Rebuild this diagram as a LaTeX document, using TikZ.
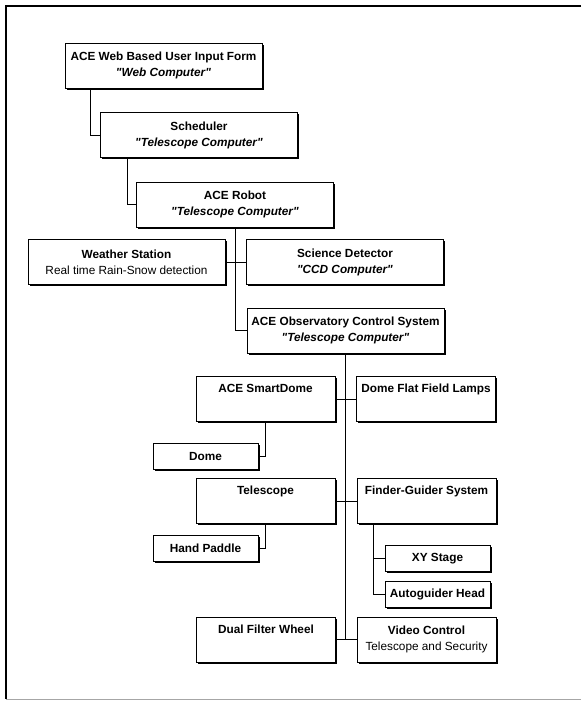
\documentclass[tikz,border=0pt]{standalone}
\usepackage{fontspec}
\setmainfont{Liberation Sans}[Ligatures=TeXOff]
\usetikzlibrary{shadows}

\tikzset{
  unit/.style={draw=black,line width=0.9pt,fill=white,align=center,inner sep=0pt,
    font=\fontsize{11.8}{16}\selectfont\bfseries,
    drop shadow={shadow xshift=1.8pt,shadow yshift=-1.8pt,fill=black,opacity=1}},
  bigunit/.style={unit,minimum width=197pt,minimum height=45pt},
  midunit/.style={unit,minimum width=139pt,minimum height=45pt},
  smallunit/.style={unit,minimum width=105pt,minimum height=26pt},
  link/.style={draw=black,line width=0.9pt}
}
\newcommand{\comp}[1]{\textit{"#1"}}
\newcommand{\plain}[1]{\mdseries #1}

\begin{document}
\begin{tikzpicture}[x=1pt,y=-1pt]
\useasboundingbox (0,0) rectangle (581,701);
% frame
\draw[line width=1.2pt] (581,6) -- (6,6) -- (6,699);
\draw[line width=1pt,black!35] (6,699) -- (581,699);
% upper chain
\node[bigunit] (web) at (163.5,65.5) {ACE Web Based User Input Form\\\comp{Web Computer}};
\node[bigunit] (sched) at (199,135) {Scheduler\\\comp{Telescope Computer}};
\node[bigunit] (robot) at (235,204.5) {ACE Robot\\\comp{Telescope Computer}};
\node[bigunit] (weather) at (126.5,262) {Weather Station\\\plain{Real time Rain-Snow detection}};
\node[bigunit] (science) at (345,262) {Science Detector\\\comp{CCD Computer}};
\node[bigunit] (ocs) at (345.5,330.5) {ACE Observatory Control System\\\comp{Telescope Computer}};
% observatory hardware
\node[midunit] (smartdome) at (265.5,399) {ACE SmartDome\\\strut};
\node[midunit] (lamps) at (426,399) {Dome Flat Field Lamps\\\strut};
\node[smallunit] (dome) at (205.5,456) {Dome};
\node[midunit] (telescope) at (265.5,501) {Telescope\\\strut};
\node[midunit] (finder) at (426.5,501) {Finder-Guider System\\\strut};
\node[smallunit] (paddle) at (205.5,548.5) {Hand Paddle};
\node[smallunit] (xystage) at (437.5,558.5) {XY Stage};
\node[smallunit] (autoguider) at (437.5,594.5) {Autoguider Head};
\node[midunit] (filter) at (266,639.5) {Dual Filter Wheel\\\strut};
\node[midunit] (video) at (426.5,639.5) {Video Control\\\plain{Telescope and Security}};
% connectors
\path[link] ([xshift=26pt]web.south west) |- (sched.west);
\path[link] ([xshift=27pt]sched.south west) |- (robot.west);
\path[link] (robot.south) |- (ocs.west);
\path[link] (weather.east) -- (science.west);
\path[link] (ocs.south) -- (ocs.south |- filter.east);
\path[link] (smartdome.east) -- (lamps.west);
\path[link] (telescope.east) -- (finder.west);
\path[link] (filter.east) -- (video.west);
\path[link] (smartdome.south) |- (dome.east);
\path[link] (telescope.south) |- (paddle.east);
\path[link] ([xshift=17pt]finder.south west) |- (xystage.west);
\path[link] ([xshift=17pt]finder.south west) |- (autoguider.west);
\end{tikzpicture}
\end{document}
